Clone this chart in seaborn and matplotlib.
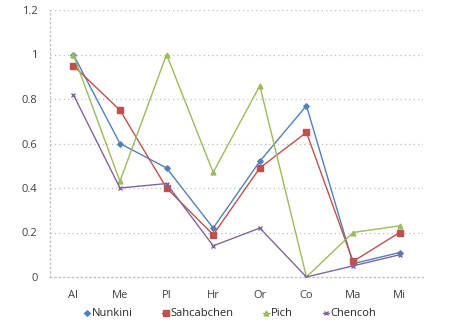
import numpy as np
import pandas as pd
import matplotlib
matplotlib.use("Agg")
import matplotlib.pyplot as plt
import seaborn as sns

categories = ["Al", "Me", "Pl", "Hr", "Or", "Co", "Ma", "Mi"]
nunkini = [1.0, 0.60, 0.49, 0.22, 0.52, 0.77, 0.06, 0.11]
sahcabchen = [0.95, 0.75, 0.40, 0.19, 0.49, 0.65, 0.07, 0.20]
pich = [1.0, 0.43, 1.0, 0.47, 0.86, 0.0, 0.20, 0.23]
chencoh = [0.82, 0.40, 0.42, 0.14, 0.22, 0.0, 0.05, 0.10]
series_names = ["Nunkini", "Sahcabchen", "Pich", "Chencoh"]

rows = []
for name, vals in zip(series_names, [nunkini, sahcabchen, pich, chencoh]):
    for i, (c, v) in enumerate(zip(categories, vals)):
        rows.append({"idx": i, "cat": c, "value": v, "series": name})
df = pd.DataFrame(rows)

sns.set_style("white")
plt.rcParams["font.family"] = ["Open Sans", "DejaVu Sans"]

palette = {"Nunkini": "#4F81BD", "Sahcabchen": "#C0504D", "Pich": "#9BBB59", "Chencoh": "#8064A2"}
markers = {"Nunkini": "D", "Sahcabchen": "s", "Pich": "^", "Chencoh": "x"}
sizes = {"Nunkini": 2.8, "Sahcabchen": 4, "Pich": 3.5, "Chencoh": 3.5}

fig = plt.figure(figsize=(4.54, 3.34), dpi=100)
ax = fig.add_axes([50 / 454, 1 - 277 / 334, 373 / 454, 267 / 334])

for name in series_names:
    sub = df[df["series"] == name]
    sns.lineplot(data=sub, x="idx", y="value", ax=ax, color=palette[name],
                 marker=markers[name], markersize=sizes[name], linewidth=1.0,
                 markeredgecolor=palette[name], markeredgewidth=1, label=name)

ax.set_xlim(-0.5, len(categories) - 0.5)
ax.set_ylim(0, 1.2)
ax.set_xticks(range(len(categories)))
ax.set_xticklabels(categories)
ax.set_yticks([0, 0.2, 0.4, 0.6, 0.8, 1.0, 1.2])
ax.set_yticklabels(["0", "0.2", "0.4", "0.6", "0.8", "1", "1.2"])
ax.set_xlabel("")
ax.set_ylabel("")
ax.tick_params(axis="y", length=0, labelsize=8, colors="#404040", pad=9)
ax.tick_params(axis="x", length=0, labelsize=8, colors="#404040", pad=9)
ax.yaxis.grid(True, linestyle=(0, (1, 2.5)), color="#BFBFBF", linewidth=0.9)
ax.set_axisbelow(True)
for s in ["top", "right"]:
    ax.spines[s].set_visible(False)
for s in ["left", "bottom"]:
    ax.spines[s].set_linestyle((0, (1, 2.5)))
    ax.spines[s].set_color("#BFBFBF")
    ax.spines[s].set_linewidth(0.9)

handles, labels = ax.get_legend_handles_labels()
ax.legend(handles, labels, loc="center", bbox_to_anchor=(180 / 373, -(314 - 277) / 267),
          ncol=4, frameon=False, fontsize=8, handlelength=0.6, handletextpad=0.1,
          columnspacing=2.7, borderaxespad=0)

fig.savefig("out.png", dpi=100)
